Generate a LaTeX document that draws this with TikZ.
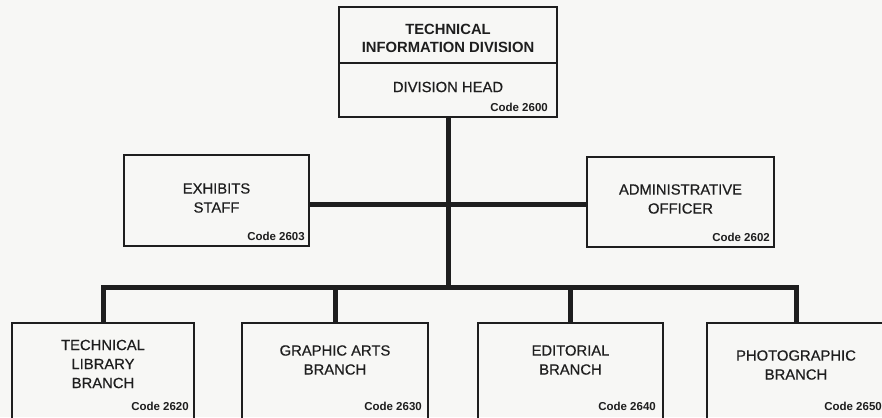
\documentclass[tikz,border=0pt]{standalone}
\usepackage{fontspec}
\setmainfont{Liberation Sans}
\newfontfamily\medfont[FakeBold=0.5]{Liberation Sans}
\definecolor{ink}{HTML}{1E1E1E}
\definecolor{paper}{HTML}{F7F7F5}
\tikzset{
  box/.style={draw=ink, line width=1.4pt, rectangle, inner sep=0pt},
  conn/.style={draw=ink, line width=5pt, line join=miter},
  lab/.style={text=ink, align=center, font=\medfont\fontsize{14.8}{19}\selectfont, inner sep=0pt},
  tlab/.style={text=ink, align=center, font=\fontsize{14.8}{18}\selectfont\bfseries, inner sep=0pt},
  code/.style={text=ink, font=\fontsize{11.5}{12}\selectfont\bfseries, inner sep=0pt, anchor=base east}
}
\begin{document}
\begin{tikzpicture}[x=1pt,y=-1pt]
\clip (0,0) rectangle (882,417);
\fill[paper] (0,0) rectangle (882,417);
% top box
\node[box, minimum width=218pt, minimum height=110pt] (top) at (448,62) {};
\draw[ink, line width=1.4pt] (339,63) -- (557,63);
\node[tlab] (toptitle) at (448,38) {TECHNICAL\\INFORMATION DIVISION};
\node[lab] (tophead) at (448,87) {DIVISION HEAD};
\node[code] (topcode) at (548,111) {Code 2600};
% middle boxes
\node[box, minimum width=185pt, minimum height=91pt] (exh) at (216.5,200.5) {};
\node[lab] (exhl) at (216.5,198) {EXHIBITS\\STAFF};
\node[code] (exhc) at (305,240) {Code 2603};
\node[box, minimum width=187pt, minimum height=90pt] (adm) at (680.5,202) {};
\node[lab] (adml) at (680.5,199) {ADMINISTRATIVE\\OFFICER};
\node[code] (admc) at (770,241) {Code 2602};
% bottom boxes
\node[box, minimum width=182pt, minimum height=110pt] (b1) at (103,378) {};
\node[lab] (b1l) at (103,364) {TECHNICAL\\LIBRARY\\BRANCH};
\node[code] (b1c) at (189,410) {Code 2620};
\node[box, minimum width=186pt, minimum height=110pt] (b2) at (335,378) {};
\node[lab] (b2l) at (335,360) {GRAPHIC ARTS\\BRANCH};
\node[code] (b2c) at (422,410) {Code 2630};
\node[box, minimum width=185pt, minimum height=110pt] (b3) at (570.5,378) {};
\node[lab] (b3l) at (570.5,360) {EDITORIAL\\BRANCH};
\node[code] (b3c) at (656,410) {Code 2640};
\node[box, minimum width=178pt, minimum height=110pt] (b4) at (796,378) {};
\node[lab] (b4l) at (796,365) {PHOTOGRAPHIC\\BRANCH};
\node[code] (b4c) at (882,410) {Code 2650};
% connectors
\coordinate (bus) at (448,287);
\coordinate (hbar) at (448,204);
\draw[conn] (top.south) -- (top.south |- bus);
\draw[conn] (exh.east |- hbar) -- (adm.west |- hbar);
\draw[conn] (b1.north) -- (b1.north |- bus) -- (b4.north |- bus) -- (b4.north);
\draw[conn] (b2.north) -- (b2.north |- bus);
\draw[conn] (b3.north) -- (b3.north |- bus);
\end{tikzpicture}
\end{document}
